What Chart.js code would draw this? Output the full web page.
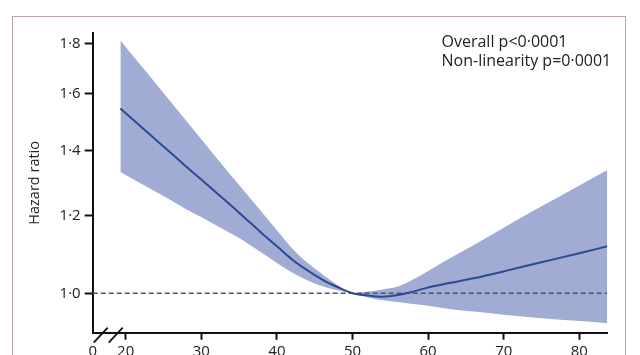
<!DOCTYPE html>
<html><head><meta charset="utf-8">
<script src="https://cdn.jsdelivr.net/npm/chart.js@4"></script>
<style>
html,body{margin:0;padding:0;background:#fff;}
#wrap{position:relative;width:640px;height:355px;overflow:hidden;}
#frame{position:absolute;left:12px;top:16px;width:614px;height:400px;border:1.5px solid #bfa3a9;box-sizing:border-box;}
canvas{position:absolute;left:0;top:0;}
</style></head><body>
<div id="wrap"><div id="frame"></div><canvas id="c" width="640" height="355"></canvas></div>
<script>
const ageValues = [19.3,22,25,28,30,32,35,38,40,42,44,46,48,50,52,54,56,58,60,63,66,70,75,80,83.7];
const hrCentral = [1.545,1.481,1.413,1.348,1.307,1.267,1.209,1.152,1.117,1.083,1.056,1.033,1.015,1.000,0.995,0.992,0.996,1.004,1.014,1.025,1.036,1.053,1.076,1.099,1.117];
const hrUpper   = [1.813,1.710,1.602,1.501,1.437,1.376,1.290,1.211,1.160,1.112,1.075,1.046,1.020,1.000,1.004,1.009,1.016,1.033,1.054,1.087,1.120,1.167,1.227,1.289,1.337];
const hrLower   = [1.330,1.295,1.257,1.219,1.197,1.173,1.139,1.100,1.074,1.050,1.031,1.017,1.007,1.000,0.990,0.984,0.980,0.975,0.971,0.963,0.958,0.951,0.943,0.937,0.932];
const refLineHR = 1.0;
const yTickValues = [1.0,1.2,1.4,1.6,1.8];
const xTickValues = [20,30,40,50,60,70,80];
const xBreakLabel = '0';
const xAxisOrigin = 15.64;
const xAxisEnd = 83.7;
const annotationLines = ['Overall p<0·0001','Non-linearity p=0·0001'];

const FONT = '"Open Sans"';
const pts = arr => ageValues.map((x,i)=>({x:x,y:arr[i]}));

const breakPlugin = {
  id:'breakMarks',
  afterDraw(chart){
    const ctx = chart.ctx, xs = chart.scales.x, b = chart.chartArea.bottom;
    const p0 = xs.getPixelForValue(xAxisOrigin);
    ctx.save();
    ctx.strokeStyle = '#111'; ctx.lineWidth = 1.8;
    [1,16].forEach(dx=>{
      ctx.beginPath();
      ctx.moveTo(p0+dx, b+10);
      ctx.lineTo(p0+dx+14, b-5);
      ctx.stroke();
    });
    ctx.fillStyle = '#222';
    ctx.font = '16px ' + FONT;
    ctx.textBaseline = 'alphabetic';
    ctx.fillText(annotationLines[0], 441.5, 46.5);
    ctx.fillText(annotationLines[1], 441.5, 66);
    ctx.restore();
  }
};

new Chart(document.getElementById('c'), {
  type:'line',
  data:{datasets:[
    {label:'upper', data:pts(hrUpper), fill:'+1', backgroundColor:'rgb(161,172,212)', borderWidth:0, pointRadius:0, cubicInterpolationMode:'monotone', order:3},
    {label:'lower', data:pts(hrLower), fill:false, borderWidth:0, pointRadius:0, cubicInterpolationMode:'monotone', order:2},
    {label:'ref', data:[{x:xAxisOrigin,y:refLineHR},{x:xAxisEnd,y:refLineHR}], borderColor:'#555', borderWidth:1.5, borderDash:[5,3], pointRadius:0, fill:false, order:1},
    {label:'central', data:pts(hrCentral), borderColor:'#2b4a94', borderWidth:2, pointRadius:0, fill:false, cubicInterpolationMode:'monotone', order:0}
  ]},
  options:{
    responsive:false, animation:false,
    layout:{padding:{top:33,right:32.7,left:0,bottom:0}},
    plugins:{legend:{display:false}, tooltip:{enabled:false}},
    scales:{
      x:{type:'linear', min:xAxisOrigin, max:xAxisEnd,
        afterBuildTicks:s=>{s.ticks=[xAxisOrigin].concat(xTickValues).map(v=>({value:v}));},
        afterFit:s=>{s.height=22.3;},
        border:{display:true,color:'#111',width:2},
        grid:{display:true, drawOnChartArea:false, drawTicks:true, tickLength:7, tickWidth:2,
              tickColor:ctx=> ctx.index===0?'rgba(0,0,0,0)':'#111'},
        ticks:{autoSkip:false, maxRotation:0, padding:3, color:'#222', font:{family:FONT,size:15},
               callback:(v,i)=> i===0?xBreakLabel:String(v)}
      },
      y:{type:'logarithmic', min:0.9115, max:1.845,
        afterBuildTicks:s=>{s.ticks=yTickValues.map(v=>({value:v}));},
        afterFit:s=>{s.width=92.7;},
        border:{display:true,color:'#111',width:2},
        grid:{display:true, drawOnChartArea:false, drawTicks:true, tickLength:8, tickWidth:2, tickColor:'#111'},
        ticks:{autoSkip:false, padding:4, color:'#222', font:{family:FONT,size:15},
               callback:v=> Number(v).toFixed(1).replace('.','·')},
        title:{display:true, text:'Hazard ratio', color:'#222', font:{family:FONT,size:14.5}, padding:{top:26.5,bottom:0}}
      }
    }
  },
  plugins:[breakPlugin]
});
</script>
</body></html>
